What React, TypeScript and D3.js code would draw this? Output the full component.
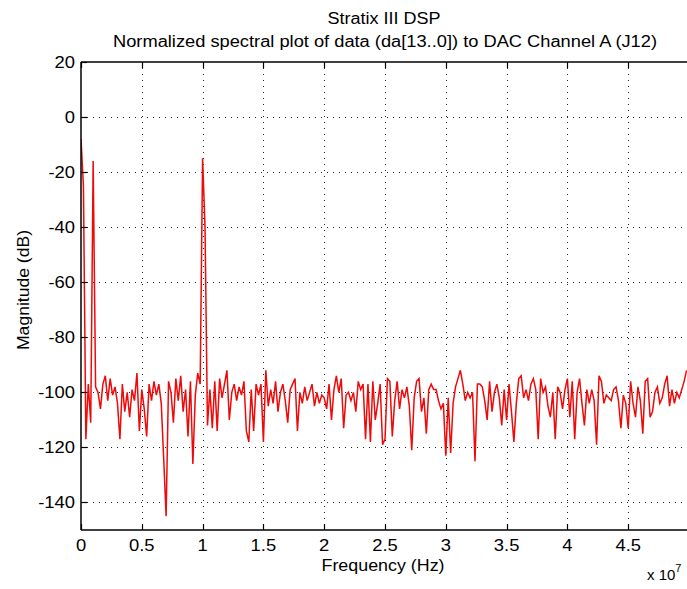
import React, { useEffect, useRef } from 'react';
import * as d3 from 'd3';

// Spectrum samples, one every 200 kHz starting at 0 Hz
const freqStepHz = 2e5;
const magnitudeDb: number[] = [
  -8, -25, -117, -97, -111, -16, -98, -100, -106, -97,
  -94, -103, -95, -101, -98, -104, -117, -97, -107, -100,
  -109, -99, -103, -93, -114, -99, -106, -116, -97, -103,
  -96, -101, -97, -104, -124, -145, -96, -100, -111, -95,
  -103, -94, -107, -99, -116, -96, -126, -101, -93, -97,
  -15, -40, -112, -99, -113, -96, -114, -95, -102, -97,
  -92, -110, -100, -97, -103, -98, -101, -96, -114, -118,
  -99, -114, -97, -101, -97, -118, -92, -105, -99, -104,
  -96, -107, -100, -97, -103, -111, -99, -97, -95, -114,
  -100, -104, -98, -103, -100, -97, -105, -100, -104, -101,
  -102, -106, -97, -110, -99, -94, -100, -95, -113, -101,
  -100, -103, -100, -107, -96, -99, -97, -117, -97, -118,
  -96, -110, -104, -97, -119, -117, -95, -96, -116, -103,
  -96, -106, -99, -102, -98, -105, -121, -102, -96, -95,
  -107, -102, -115, -99, -97, -99, -99, -103, -106, -104,
  -123, -102, -122, -104, -98, -95, -92, -97, -103, -100,
  -102, -100, -125, -97, -97, -98, -103, -110, -96, -107,
  -100, -97, -102, -112, -99, -110, -97, -107, -118, -104,
  -95, -94, -102, -99, -103, -97, -95, -99, -117, -95,
  -100, -98, -105, -109, -100, -117, -98, -100, -106, -99,
  -95, -109, -96, -117, -100, -95, -104, -112, -99, -104,
  -99, -103, -119, -94, -96, -104, -101, -102, -103, -99,
  -98, -103, -113, -101, -104, -113, -96, -104, -109, -98,
  -103, -115, -96, -95, -109, -107, -100, -98, -104, -102,
  -97, -94, -105, -99, -104, -100, -102, -99, -96, -92,
];

const xTicks = [0, 0.5, 1, 1.5, 2, 2.5, 3, 3.5, 4, 4.5, 5];
// the "5" label falls past the right edge of the picture
const xTickLabels = ['0', '0.5', '1', '1.5', '2', '2.5', '3', '3.5', '4', '4.5', ''];
const yTicks = [20, 0, -20, -40, -60, -80, -100, -120, -140];

const titleLines = ['Stratix III DSP', 'Normalized spectral plot of data (da[13..0]) to DAC Channel A (J12)'];

export default function App() {
  const svgRef = useRef<SVGSVGElement>(null);

  useEffect(() => {
    if (!svgRef.current) return;
    const svg = d3.select(svgRef.current);
    svg.selectAll('*').remove();

    const W = 687;
    const H = 589;
    const left = 81, right = 689, top = 62, bottom = 530;
    const font = "'Liberation Sans', Arial, sans-serif";
    const stretch = 1.15;

    const x = d3.scaleLinear().domain([0, 5e7]).range([left, right]);
    const y = d3.scaleLinear().domain([-150, 20]).range([bottom, top]);

    svg.append('rect').attr('width', W).attr('height', H).attr('fill', '#fff');

    // grid
    const grid = svg.append('g').attr('stroke', '#222').attr('stroke-width', 1).attr('stroke-dasharray', '1,5');
    xTicks.filter(t => t > 0).forEach(t => {
      grid.append('line')
        .attr('x1', Math.round(x(t * 1e7)) + 0.5).attr('x2', Math.round(x(t * 1e7)) + 0.5)
        .attr('y1', top).attr('y2', bottom);
    });
    yTicks.filter(t => t < 20).forEach(t => {
      grid.append('line')
        .attr('x1', left).attr('x2', right)
        .attr('y1', Math.round(y(t)) + 0.5).attr('y2', Math.round(y(t)) + 0.5);
    });

    // data
    svg.append('defs').append('clipPath').attr('id', 'plot-clip')
      .append('rect').attr('x', left).attr('y', top).attr('width', right - left).attr('height', bottom - top);

    const line = d3.line<number>()
      .x((_, i) => x(i * freqStepHz))
      .y(d => y(d));

    svg.append('path')
      .datum(magnitudeDb)
      .attr('clip-path', 'url(#plot-clip)')
      .attr('fill', 'none')
      .attr('stroke', '#ee0a0a')
      .attr('stroke-width', 1.5)
      .attr('stroke-linejoin', 'miter')
      .attr('d', line);

    // axes box (right side runs off the picture)
    const axis = svg.append('g').attr('stroke', '#000').attr('stroke-width', 1.5).attr('fill', 'none');
    axis.append('line').attr('x1', left).attr('x2', right).attr('y1', top).attr('y2', top);
    axis.append('line').attr('x1', left).attr('x2', right).attr('y1', bottom).attr('y2', bottom);
    axis.append('line').attr('x1', left).attr('x2', left).attr('y1', top).attr('y2', bottom);

    const ticks = svg.append('g').attr('stroke', '#000').attr('stroke-width', 1.2);
    xTicks.forEach(t => {
      const px = Math.round(x(t * 1e7)) + 0.5;
      ticks.append('line').attr('x1', px).attr('x2', px).attr('y1', bottom).attr('y2', bottom - 6);
      ticks.append('line').attr('x1', px).attr('x2', px).attr('y1', top).attr('y2', top + 6);
    });
    yTicks.forEach(t => {
      const py = Math.round(y(t)) + 0.5;
      ticks.append('line').attr('x1', left).attr('x2', left + 6).attr('y1', py).attr('y2', py);
    });

    const addText = (str: string, tx: number, ty: number, anchor: string, size: number, sx = stretch) => {
      if (!str) return;
      svg.append('text')
        .attr('transform', `translate(${tx},${ty}) scale(${sx},1)`)
        .attr('text-anchor', anchor)
        .attr('font-family', font)
        .attr('font-size', size)
        .attr('fill', '#000')
        .text(str);
    };

    xTicks.forEach((t, i) => addText(xTickLabels[i], x(t * 1e7), 551, 'middle', 16));
    yTicks.forEach(t => addText(String(t), 75, y(t) + 6, 'end', 16));

    // titles
    svg.append('text')
      .attr('x', 384).attr('y', 24)
      .attr('text-anchor', 'middle')
      .attr('font-family', font).attr('font-size', 16)
      .attr('textLength', 113).attr('lengthAdjust', 'spacingAndGlyphs')
      .text(titleLines[0]);
    svg.append('text')
      .attr('x', 385).attr('y', 47)
      .attr('text-anchor', 'middle')
      .attr('font-family', font).attr('font-size', 16)
      .attr('textLength', 544).attr('lengthAdjust', 'spacingAndGlyphs')
      .text(titleLines[1]);

    // axis labels
    svg.append('text')
      .attr('x', 383).attr('y', 571)
      .attr('text-anchor', 'middle')
      .attr('font-family', font).attr('font-size', 16)
      .attr('textLength', 123).attr('lengthAdjust', 'spacingAndGlyphs')
      .text('Frequency (Hz)');
    svg.append('text')
      .attr('transform', 'translate(29,290) rotate(-90)')
      .attr('text-anchor', 'middle')
      .attr('font-family', font).attr('font-size', 16)
      .attr('textLength', 120).attr('lengthAdjust', 'spacingAndGlyphs')
      .text('Magnitude (dB)');

    // exponent
    const ex = svg.append('text')
      .attr('x', 647).attr('y', 580)
      .attr('font-family', font).attr('font-size', 15)
      .attr('fill', '#000');
    ex.append('tspan').text('x 10');
    ex.append('tspan').attr('dy', -8).attr('font-size', 11).text('7');
  }, []);

  return (
    <div style={{ position: 'absolute', left: 0, top: 0, width: 687, height: 589, background: '#fff' }}>
      <svg ref={svgRef} width={687} height={589} style={{ display: 'block' }} />
    </div>
  );
}
